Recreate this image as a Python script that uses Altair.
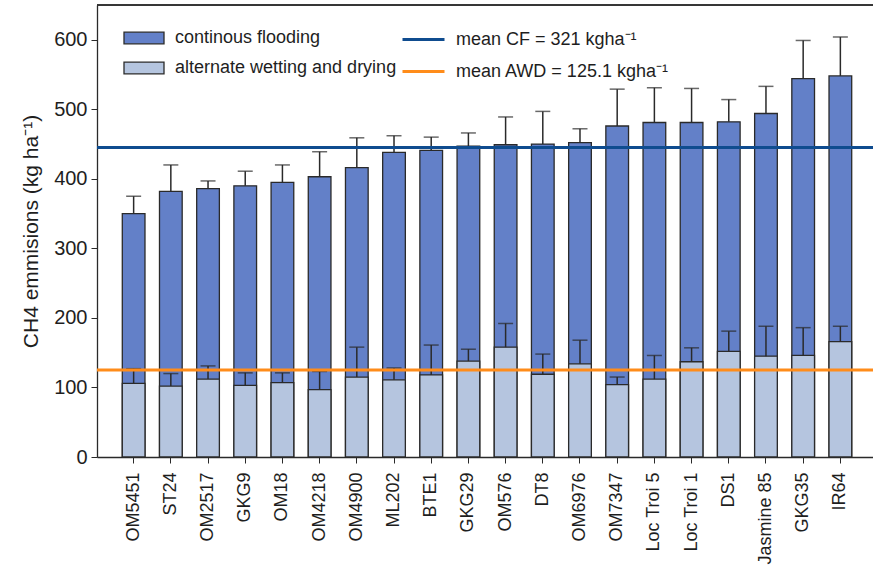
import altair as alt
import pandas as pd

varieties = ["OM5451", "ST24", "OM2517", "GKG9", "OM18", "OM4218", "OM4900",
             "ML202", "BTE1", "GKG29", "OM576", "DT8", "OM6976", "OM7347",
             "Loc Troi 5", "Loc Troi 1", "DS1", "Jasmine 85", "GKG35", "IR64"]
cf_mean = [350, 382, 386, 390, 395, 403, 416, 438, 441, 447, 449, 450, 452, 476,
           481, 481, 482, 494, 544, 548]
cf_sd = [25, 38, 11, 21, 25, 36, 43, 24, 19, 19, 40, 47, 20, 53, 50, 49, 32, 39, 55, 56]
awd_mean = [106, 102, 112, 103, 107, 97, 115, 111, 118, 138, 158, 119, 134, 104,
            112, 137, 152, 145, 146, 166]
awd_sd = [21, 18, 19, 18, 14, 26, 43, 17, 43, 17, 34, 29, 34, 11, 34, 20, 29, 43, 40, 22]

series_names = ["continous flooding", "alternate wetting and drying"]
series_colors = ["#6380C8", "#B5C5DF"]
mean_labels = ["mean CF = 321 kgha\u207b\u00b9", "mean AWD = 125.1 kgha\u207b\u00b9"]
mean_values = [445, 125.1]
mean_colors = ["#0F4C8F", "#FF8C1A"]

rows = []
for name, means, sds in [(series_names[0], cf_mean, cf_sd), (series_names[1], awd_mean, awd_sd)]:
    for v, m, s in zip(varieties, means, sds):
        rows.append({"variety": v, "series": name, "mean": m, "top": m + s})
df = pd.DataFrame(rows)
means_df = pd.DataFrame({"label": mean_labels, "value": mean_values})

W, H = 776, 452
ink = "#2a2a2a"
txt = "#1e1e1e"

xenc = alt.X("variety:N", sort=varieties,
             scale=alt.Scale(paddingInner=0.39, paddingOuter=0.68, range=[0, 780]),
             axis=alt.Axis(title=None, labelAngle=-90, labelFontSize=18, labelColor=txt,
                           tickSize=6, tickColor=ink, domainColor=ink, domainWidth=1.3,
                           labelPadding=9, labelBaseline="middle"))
yscale = alt.Scale(domain=[0, 650], nice=False, zero=True)

bars = alt.Chart(df).mark_bar(stroke=ink, strokeWidth=1.3).encode(
    x=xenc,
    y=alt.Y("mean:Q", stack=None, scale=yscale,
            axis=alt.Axis(title="CH4 emmisions (kg ha\u207b\u00b9)", titleFontSize=21,
                          titleFontWeight="normal", titleColor=txt, titlePadding=12,
                          values=[0, 100, 200, 300, 400, 500, 600], labelFontSize=20,
                          labelColor=txt, tickSize=6, tickColor=ink, domainColor=ink,
                          domainWidth=1.3, grid=False, labelPadding=4)),
    fill=alt.Fill("series:N", scale=alt.Scale(domain=series_names, range=series_colors),
                  legend=alt.Legend(title=None, orient="none", legendX=26, legendY=12,
                                    symbolType="M-1,-0.29H1V0.29H-1Z", symbolSize=1600,
                                    symbolStrokeColor=ink, symbolStrokeWidth=1.3,
                                    labelFontSize=18, labelColor=txt, labelOffset=10,
                                    labelLimit=0, rowPadding=-17, padding=0)),
    order=alt.Order("order_idx:Q"),
).transform_calculate(order_idx="datum.series == 'continous flooding' ? 0 : 1")

err = alt.Chart(df).mark_rule(color=ink, strokeWidth=1.5).encode(
    x=alt.X("variety:N", sort=varieties),
    y=alt.Y("mean:Q", scale=yscale),
    y2="top:Q",
)
caps = alt.Chart(df).mark_tick(color=ink, thickness=1.5, size=15).encode(
    x=alt.X("variety:N", sort=varieties),
    y=alt.Y("top:Q", scale=yscale),
)
lines = alt.Chart(means_df).mark_rule(strokeWidth=3).encode(
    y=alt.Y("value:Q", scale=yscale),
    stroke=alt.Stroke("label:N", scale=alt.Scale(domain=mean_labels, range=mean_colors),
                      legend=alt.Legend(title=None, orient="none", legendX=304, legendY=12,
                                        symbolType="stroke", symbolSize=1764,
                                        symbolStrokeWidth=3, labelFontSize=18,
                                        labelColor=txt, labelOffset=10, labelLimit=0,
                                        rowPadding=-17, padding=0)),
)
frame = alt.Chart(means_df).mark_rule(color=ink, strokeWidth=1.5).encode(
    x=alt.value(0), x2=alt.value(W + 10), y=alt.value(0)
)

chart = alt.layer(bars, err, caps, lines, frame).properties(
    width=W, height=H,
    padding={"left": 97, "top": 5, "right": 0, "bottom": 109},
    autosize=alt.AutoSizeParams(type="none"),
).resolve_legend(fill="independent", stroke="independent").configure_view(
    stroke=None
).configure(font="Liberation Sans").configure_legend(labelFont="Liberation Sans")

chart.save("out.html", embed_options={"renderer": "svg", "actions": False})
